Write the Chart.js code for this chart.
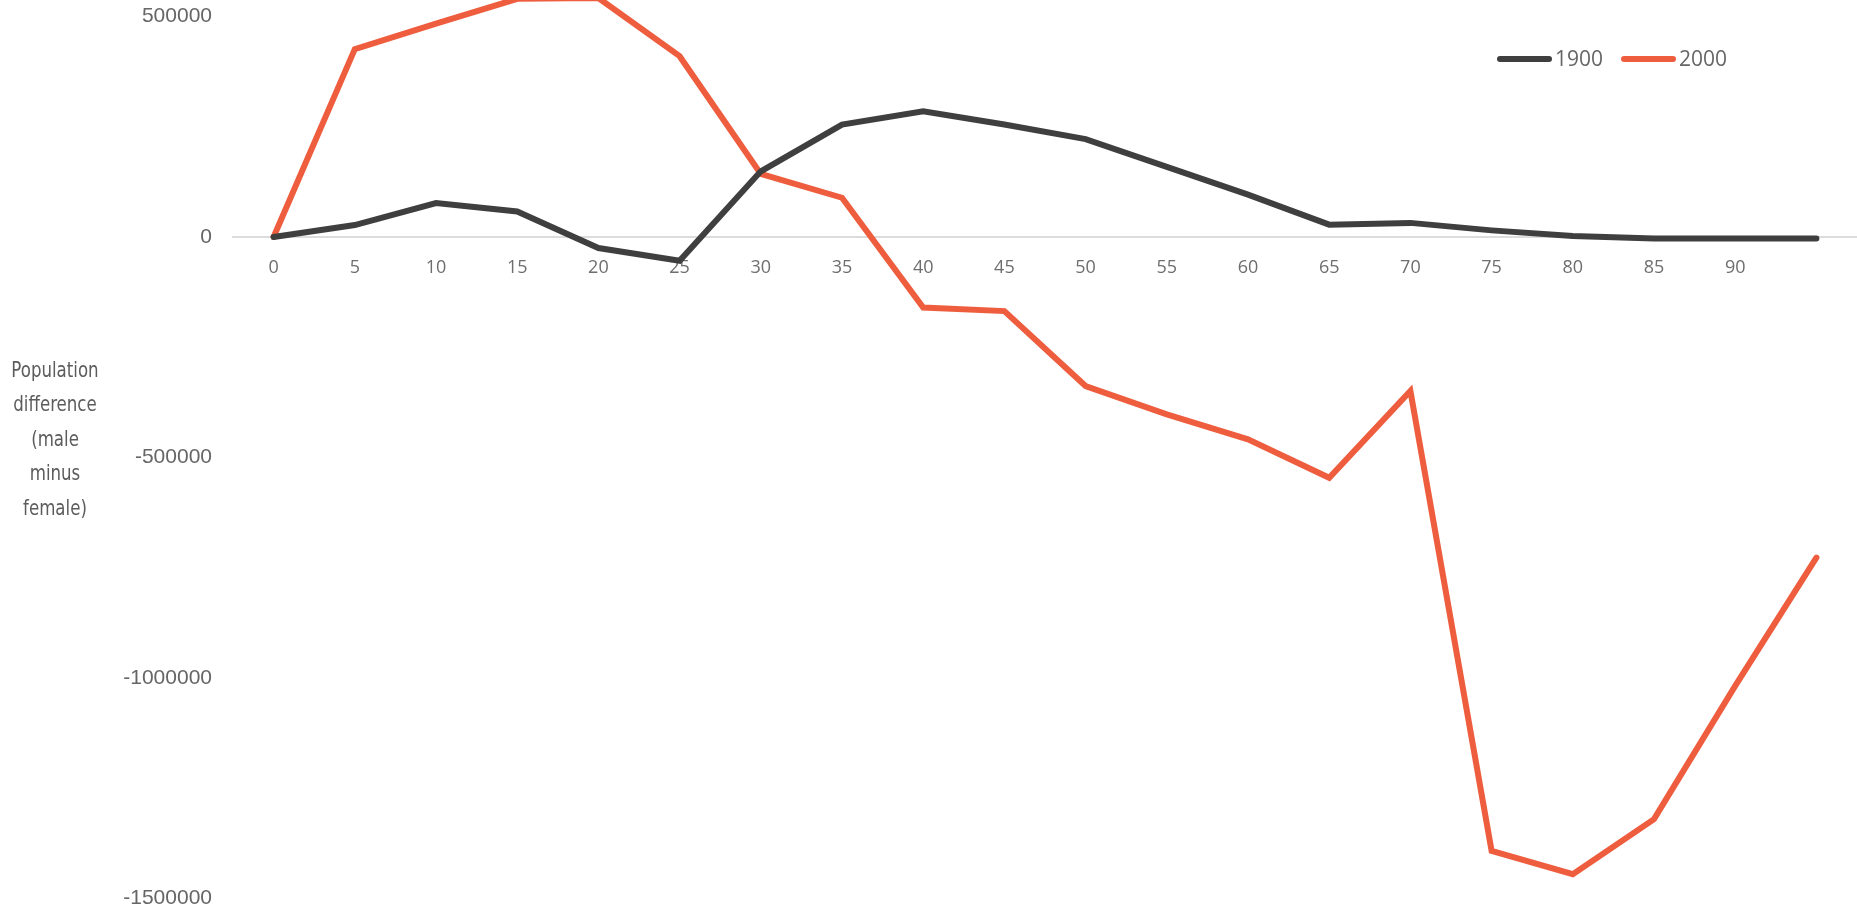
<!DOCTYPE html>
<html>
<head>
<meta charset="utf-8">
<title>Population difference by age, 1900 vs 2000</title>
<script src="https://cdn.jsdelivr.net/npm/chart.js@4.4.1/dist/chart.umd.min.js"></script>
<style>
  html, body { margin: 0; padding: 0; background: #fff; }
  #wrap { position: relative; width: 1857px; height: 916px; }
</style>
</head>
<body>
<div id="wrap"><canvas id="popChart"></canvas></div>
<script>
// age groups (last group has no label on the axis)
const ageLabels = ["0", "5", "10", "15", "20", "25", "30", "35", "40", "45",
  "50", "55", "60", "65", "70", "75", "80", "85", "90", ""];

const seriesNames = ["1900", "2000"];

// male minus female
const diff1900 = [0, 27000, 77000, 58000, -25000, -54000, 149000, 255000, 285000, 255000,
  222000, 159000, 96000, 28000, 32000, 15000, 2000, -3500, -3500, -3500];
const diff2000 = [0, 426000, 484000, 540000, 542000, 410000, 143000, 89000, -160000, -168000,
  -338000, -402000, -459000, -546000, -349000, -1392000, -1445000, -1320000, -1018000, -727000];

const yTickValues = [500000, 0, -500000, -1000000, -1500000];
const yTitleLines = ["Population", "difference", "(male", "minus", "female)"];

const lineColors = ["#3f3f3f", "#ef5d3f"];

// y title (horizontal, stacked) and the legend sit outside the layout boxes
const sideNotes = {
  id: "sideNotes",
  afterDraw(chart) {
    const ctx = chart.ctx;
    ctx.save();
    ctx.fillStyle = "#5c5c5c";
    ctx.textAlign = "center";
    ctx.textBaseline = "middle";
    ctx.font = '22px "Liberation Sans Narrow", "DejaVu Sans Condensed", sans-serif';
    yTitleLines.forEach((line, i) => {
      const w = ctx.measureText(line).width;
      ctx.fillText(line, 55, 371 + i * 34.5, w * 0.84);
    });

    ctx.font = '21px "Open Sans", sans-serif';
    ctx.textAlign = "left";
    let x = 1497;
    chart.data.datasets.forEach((ds) => {
      ctx.strokeStyle = ds.borderColor;
      ctx.lineWidth = 6;
      ctx.lineCap = "round";
      ctx.beginPath();
      ctx.moveTo(x + 3, 59);
      ctx.lineTo(x + 52, 59);
      ctx.stroke();
      ctx.fillStyle = "#666";
      ctx.fillText(ds.label, x + 58, 60);
      x += 58 + ctx.measureText(ds.label).width + 18;
    });
    ctx.restore();
  }
};

const ctx = document.getElementById("popChart");
new Chart(ctx, {
  type: "line",
  data: {
    labels: ageLabels,
    datasets: [
      {
        label: seriesNames[0],
        data: diff1900,
        borderColor: lineColors[0],
        backgroundColor: lineColors[0],
        borderWidth: 6,
        borderCapStyle: "round",
        pointRadius: 0,
        tension: 0,
      },
      {
        label: seriesNames[1],
        data: diff2000,
        borderColor: lineColors[1],
        backgroundColor: lineColors[1],
        borderWidth: 6,
        borderCapStyle: "round",
        pointRadius: 0,
        tension: 0,
      },
    ],
  },
  options: {
    responsive: true,
    maintainAspectRatio: false,
    animation: false,
    layout: { padding: 0 },
    plugins: {
      legend: { display: false },
      tooltip: { enabled: false },
    },
    scales: {
      x: {
        type: "category",
        position: { y: 0 },
        offset: true,
        grid: { display: false, drawTicks: false },
        border: { display: true, color: "#dcdcdc", width: 2 },
        ticks: {
          autoSkip: false,
          maxRotation: 0,
          padding: 20,
          color: "#6e6e6e",
          font: { family: '"Open Sans", sans-serif', size: 18 },
        },
        afterFit(scale) {
          scale.height = 0;
        },
      },
      y: {
        min: -1539700,
        max: 537400,
        grid: { display: false, drawTicks: false },
        border: { display: false },
        afterBuildTicks(scale) {
          scale.ticks = yTickValues.map((v) => ({ value: v }));
        },
        afterFit(scale) {
          scale.width = 233;
          // plot runs to the very top and bottom of the picture
          scale.paddingTop = 0;
          scale.paddingBottom = 0;
        },
        ticks: {
          padding: 21,
          color: "#666",
          font: { family: '"Liberation Sans", Arial, sans-serif', size: 21 },
          callback: (v) => String(v),
        },
      },
    },
  },
  plugins: [sideNotes],
});
</script>
</body>
</html>
